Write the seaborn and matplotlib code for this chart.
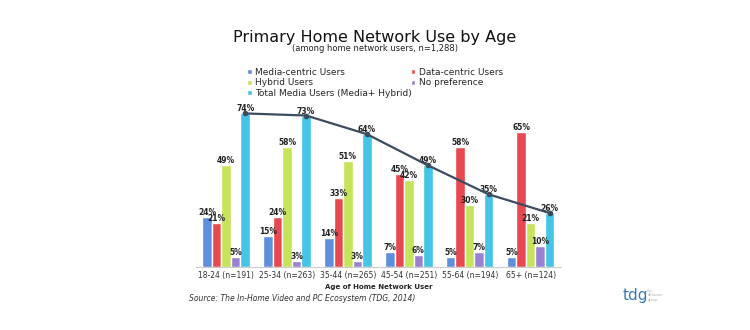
import matplotlib
matplotlib.use("Agg")
import matplotlib.pyplot as plt
import seaborn as sns
import pandas as pd

categories = ["18-24 (n=191)", "25-34 (n=263)", "35-44 (n=265)", "45-54 (n=251)", "55-64 (n=194)", "65+ (n=124)"]
series_names = ["Media-centric Users", "Data-centric Users", "Hybrid Users", "No preference", "Total Media Users (Media+ Hybrid)"]
media = [24, 15, 14, 7, 5, 5]
data_c = [21, 24, 33, 45, 58, 65]
hybrid = [49, 58, 51, 42, 30, 21]
nopref = [5, 3, 3, 6, 7, 10]
total = [74, 73, 64, 49, 35, 26]
colors = ["#5e8fdc", "#e8484f", "#c6e45a", "#9a80d2", "#44c4e6"]

rows = []
for name, vals in zip(series_names, [media, data_c, hybrid, nopref, total]):
    for c, v in zip(categories, vals):
        rows.append({"Age": c, "Series": name, "Value": v})
df = pd.DataFrame(rows)

sns.set_theme(style="white")
plt.rcParams["font.family"] = ["DejaVu Sans"]

fig = plt.figure(figsize=(7.5, 3.3), dpi=100)
ax = fig.add_axes([0.261, 0.191, 0.487, 0.503])
sns.barplot(data=df, x="Age", y="Value", hue="Series", palette=colors,
            order=categories, hue_order=series_names, width=0.78, ax=ax,
            legend=True, saturation=1)

for cont in ax.containers:
    ax.bar_label(cont, fmt="%d%%", fontsize=5.5, fontweight="bold", color="#222222", padding=0)

# line connecting the total bars
tot_cont = ax.containers[-1]
xs = [p.get_x() + p.get_width() / 2 for p in tot_cont]
ax.plot(xs, total, color="#3b4c5f", lw=1.6, marker="o", markersize=3, zorder=5)

ax.set_ylim(0, 80)
ax.set_xlim(-0.5, 5.5)
ax.set_yticks([])
ax.set_ylabel("")
ax.set_xlabel("Age of Home Network User", fontsize=5, fontweight="bold", labelpad=3)
ax.tick_params(axis="x", labelsize=5.5, length=0, pad=3, colors="#333333")
for s in ["top", "right", "left"]:
    ax.spines[s].set_visible(False)
ax.spines["bottom"].set_color("#cccccc")
ax.spines["bottom"].set_linewidth(0.8)

handles, labels = ax.get_legend_handles_labels()
ax.get_legend().remove()
leg_kw = dict(loc="upper left", ncol=1, fontsize=6.5, frameon=False,
              handlelength=0.5, handleheight=0.5, handletextpad=0.4,
              labelspacing=0.15, borderaxespad=0)
left_idx = [0, 2, 4]
right_idx = [1, 3]
fig.legend([handles[i] for i in left_idx], [labels[i] for i in left_idx],
           bbox_to_anchor=(0.325, 0.805), **leg_kw)
fig.legend([handles[i] for i in right_idx], [labels[i] for i in right_idx],
           bbox_to_anchor=(0.543, 0.805), **leg_kw)

fig.text(0.5, 0.885, "Primary Home Network Use by Age", ha="center", va="center",
         fontsize=11.5, color="#111111")
fig.text(0.5, 0.852, "(among home network users, n=1,288)", ha="center", va="center",
         fontsize=6, color="#222222")
fig.text(0.252, 0.095, "Source: The In-Home Video and PC Ecosystem (TDG, 2014)",
         ha="left", va="center", fontsize=5.5, style="italic", color="#333333")
fig.text(0.83, 0.105, "tdg", ha="left", va="center", fontsize=11, color="#3a78b8")
fig.text(0.863, 0.105, "the\ndiffusion\ngroup", ha="left", va="center", fontsize=2.5, color="#aaaaaa")

fig.savefig("out.png", dpi=100)
